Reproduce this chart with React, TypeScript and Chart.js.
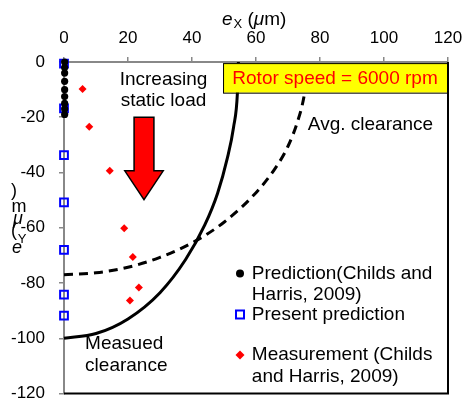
import React, { useEffect, useRef } from "react";
import { Chart, registerables } from "chart.js";
Chart.register(...registerables);

const xTickValues = [0, 20, 40, 60, 80, 100, 120];
const yTickValues = [0, -20, -40, -60, -80, -100, -120];

const predChildsX = [0.2, 0.2, 0.2, 0.2, 0.2, 0.2, 0.2, 0.2, 0.2];
const predChildsY = [0, -2, -4, -7, -10, -12.5, -15, -17, -19];

const presentX = [0, 0, 0, 0, 0, 0, 0];
const presentY = [-0.6, -16.8, -33.7, -50.8, -68, -84.2, -91.8];

const measX = [5.8, 7.9, 14.3, 18.8, 21.5, 23.4, 20.6];
const measY = [-9.8, -23.4, -39.4, -60.2, -70.6, -81.6, -86.3];

const measuredClrX = [0, 10, 20, 30, 38, 44, 48, 51, 53, 54.2, 54.5];
const measuredClrY = [-100, -98.3, -93, -83.5, -71.5, -59, -47.5, -35, -23.5, -11, 0];

const avgClrX = [0, 10, 20, 30, 40, 50, 60, 66, 70, 73, 75, 76.5];
const avgClrY = [-77, -76.3, -74.3, -70.7, -65.5, -58, -47.3, -38.5, -30.5, -21.5, -12.5, 0];

const legendLabels = [
  ["Prediction(Childs and", "Harris, 2009)"],
  ["Present prediction"],
  ["Measurement (Childs", "and Harris, 2009)"],
];

const pts = (xs: number[], ys: number[]) => xs.map((x, i) => ({ x, y: ys[i] }));

export default function App() {
  const ref = useRef<HTMLCanvasElement>(null);
  useEffect(() => {
    const FONT = '"Liberation Sans", Arial, sans-serif';
    const overlay = {
      id: "overlay",
      afterDatasetsDraw(chart: any) {
        const ctx = chart.ctx as CanvasRenderingContext2D;
        const xs = chart.scales.x;
        const ys = chart.scales.y;
        const px = (v: number) => xs.getPixelForValue(v);
        const py = (v: number) => ys.getPixelForValue(v);
        const ca = chart.chartArea;
        ctx.save();
        // right & bottom black frame
        ctx.strokeStyle = "#000";
        ctx.lineWidth = 2;
        ctx.beginPath();
        ctx.moveTo(ca.left, ca.bottom);
        ctx.lineTo(ca.right, ca.bottom);
        ctx.lineTo(ca.right, ca.top);
        ctx.stroke();

        // red arrow
        const ac = 25, sh = 3.1, hh = 6, top = -20, hs = -39.4, tip = -49.8;
        ctx.beginPath();
        ctx.moveTo(px(ac - sh), py(top));
        ctx.lineTo(px(ac + sh), py(top));
        ctx.lineTo(px(ac + sh), py(hs));
        ctx.lineTo(px(ac + hh), py(hs));
        ctx.lineTo(px(ac), py(tip));
        ctx.lineTo(px(ac - hh), py(hs));
        ctx.lineTo(px(ac - sh), py(hs));
        ctx.closePath();
        ctx.fillStyle = "#FF0000";
        ctx.fill();
        ctx.lineWidth = 1.5;
        ctx.strokeStyle = "#000";
        ctx.stroke();

        // yellow box
        const bx1 = px(49.7), bx2 = px(119.7), by1 = py(-0.4), by2 = py(-11.1);
        ctx.fillStyle = "#FFFF00";
        ctx.fillRect(bx1, by1, bx2 - bx1, by2 - by1);
        ctx.lineWidth = 1;
        ctx.strokeRect(bx1 + 0.5, by1 + 0.5, bx2 - bx1, by2 - by1);
        ctx.fillStyle = "#FF0000";
        ctx.font = `19px ${FONT}`;
        ctx.textAlign = "center";
        ctx.textBaseline = "middle";
        ctx.fillText("Rotor speed = 6000 rpm", (bx1 + bx2) / 2, (by1 + by2) / 2 + 1);

        ctx.fillStyle = "#000";
        ctx.fillText("Increasing", px(31.1), py(-6.45));
        ctx.fillText("static load", px(31.1), py(-14.2));
        ctx.textAlign = "left";
        ctx.fillText("Avg. clearance", px(76.2), py(-22.6));
        ctx.fillText("Measued", px(6.6), py(-102));
        ctx.fillText("clearance", px(6.6), py(-110));

        // legend
        const mx = px(55), tx = px(58.7);
        ctx.beginPath();
        ctx.arc(mx, py(-76.6), 4, 0, Math.PI * 2);
        ctx.fillStyle = "#000";
        ctx.fill();
        ctx.fillText(legendLabels[0][0], tx, py(-76.6));
        ctx.fillText(legendLabels[0][1], tx, py(-84.2));
        ctx.strokeStyle = "#0000FF";
        ctx.lineWidth = 2;
        ctx.fillStyle = "#fff";
        ctx.fillRect(mx - 4, py(-91.4) - 4, 8, 8);
        ctx.strokeRect(mx - 4, py(-91.4) - 4, 8, 8);
        ctx.fillStyle = "#000";
        ctx.fillText(legendLabels[1][0], tx, py(-91.4));
        const dy = py(-106.1);
        ctx.beginPath();
        ctx.moveTo(mx, dy - 4.5);
        ctx.lineTo(mx + 4.5, dy);
        ctx.lineTo(mx, dy + 4.5);
        ctx.lineTo(mx - 4.5, dy);
        ctx.closePath();
        ctx.fillStyle = "#FF0000";
        ctx.fill();
        ctx.fillStyle = "#000";
        ctx.fillText(legendLabels[2][0], tx, dy);
        ctx.fillText(legendLabels[2][1], tx, py(-114));

        // top axis title e_X (μm)
        ctx.textBaseline = "alphabetic";
        ctx.font = `italic 19px ${FONT}`;
        let x = 222;
        ctx.fillText("e", x, 25);
        x += ctx.measureText("e").width + 1;
        ctx.font = `13px ${FONT}`;
        ctx.fillText("X", x, 28);
        x += ctx.measureText("X").width;
        ctx.font = `19px ${FONT}`;
        ctx.fillText(" (", x, 25);
        x += ctx.measureText(" (").width;
        ctx.font = `italic 19px ${FONT}`;
        ctx.fillText("\u03bc", x, 25);
        x += ctx.measureText("\u03bc").width;
        ctx.font = `19px ${FONT}`;
        ctx.fillText("m)", x, 25);

        // left axis title (stacked characters)
        ctx.textAlign = "center";
        ctx.textBaseline = "middle";
        ctx.font = `18px ${FONT}`;
        ctx.fillText(")", 14, 191);
        ctx.fillText("m", 19, 207);
        ctx.font = `italic 18px ${FONT}`;
        ctx.fillText("\u03bc", 18, 219);
        ctx.font = `18px ${FONT}`;
        ctx.fillText("(", 14, 231);
        ctx.font = `13px ${FONT}`;
        ctx.fillText("Y", 22, 239);
        ctx.font = `italic 18px ${FONT}`;
        ctx.fillText("e", 17, 248);
        ctx.restore();
      },
    };

    const chart = new Chart(ref.current as HTMLCanvasElement, {
      type: "scatter",
      data: {
        datasets: [
          {
            label: "Measued clearance",
            data: pts(measuredClrX, measuredClrY),
            showLine: true,
            borderColor: "#000",
            borderWidth: 3,
            pointRadius: 0,
            cubicInterpolationMode: "monotone",
            clip: false,
          } as any,
          {
            label: "Avg. clearance",
            data: pts(avgClrX, avgClrY),
            showLine: true,
            borderColor: "#000",
            borderWidth: 3,
            borderDash: [9, 6],
            pointRadius: 0,
            cubicInterpolationMode: "monotone",
            clip: false,
          } as any,
          {
            label: legendLabels[0].join(" "),
            data: pts(predChildsX, predChildsY),
            pointStyle: "circle",
            pointRadius: 3.6,
            backgroundColor: "#000",
            borderColor: "#000",
            borderWidth: 0,
            clip: false,
          } as any,
          {
            label: legendLabels[1][0],
            data: pts(presentX, presentY),
            pointStyle: "rect",
            pointRadius: 5.5,
            backgroundColor: "rgba(255,255,255,0)",
            borderColor: "#0000FF",
            borderWidth: 2,
            clip: false,
          } as any,
          {
            label: legendLabels[2].join(" "),
            data: pts(measX, measY),
            pointStyle: "rectRot",
            pointRadius: 4,
            backgroundColor: "#FF0000",
            borderColor: "#FF0000",
            borderWidth: 0,
            clip: false,
          } as any,
        ],
      },
      options: {
        responsive: false,
        animation: false,
        devicePixelRatio: 1,
        layout: { padding: { left: 0, top: 0, right: 14, bottom: 4 } },
        plugins: { legend: { display: false }, tooltip: { enabled: false } },
        scales: {
          x: {
            type: "linear",
            position: "top",
            min: 0,
            max: 120,
            afterBuildTicks: (s: any) => {
              s.ticks = xTickValues.map((v) => ({ value: v }));
            },
            afterFit: (s: any) => {
              s.height = 62;
              s.paddingLeft = 0;
              s.paddingRight = 0;
            },
            grid: { drawOnChartArea: false, drawTicks: true, tickLength: 5, color: "#888", lineWidth: 1.5 },
            border: { display: true, color: "#888", width: 2 },
            ticks: { color: "#000", font: { family: FONT, size: 17 }, padding: 8, maxRotation: 0 },
          },
          y: {
            type: "linear",
            min: -120,
            max: 0,
            afterBuildTicks: (s: any) => {
              s.ticks = yTickValues.map((v) => ({ value: v }));
            },
            afterFit: (s: any) => {
              s.width = 64;
              s.paddingTop = 0;
              s.paddingBottom = 0;
            },
            grid: { drawOnChartArea: false, drawTicks: true, tickLength: 5, color: "#888", lineWidth: 1.5 },
            border: { display: true, color: "#888", width: 2 },
            ticks: { color: "#000", font: { family: FONT, size: 17 }, padding: 14 },
          },
        },
      } as any,
      plugins: [overlay],
    });
    return () => chart.destroy();
  }, []);
  return (
    <div style={{ position: "absolute", left: 0, top: 0, width: 462, height: 401, background: "#fff" }}>
      <canvas ref={ref} width={462} height={401} style={{ display: "block" }} />
    </div>
  );
}
